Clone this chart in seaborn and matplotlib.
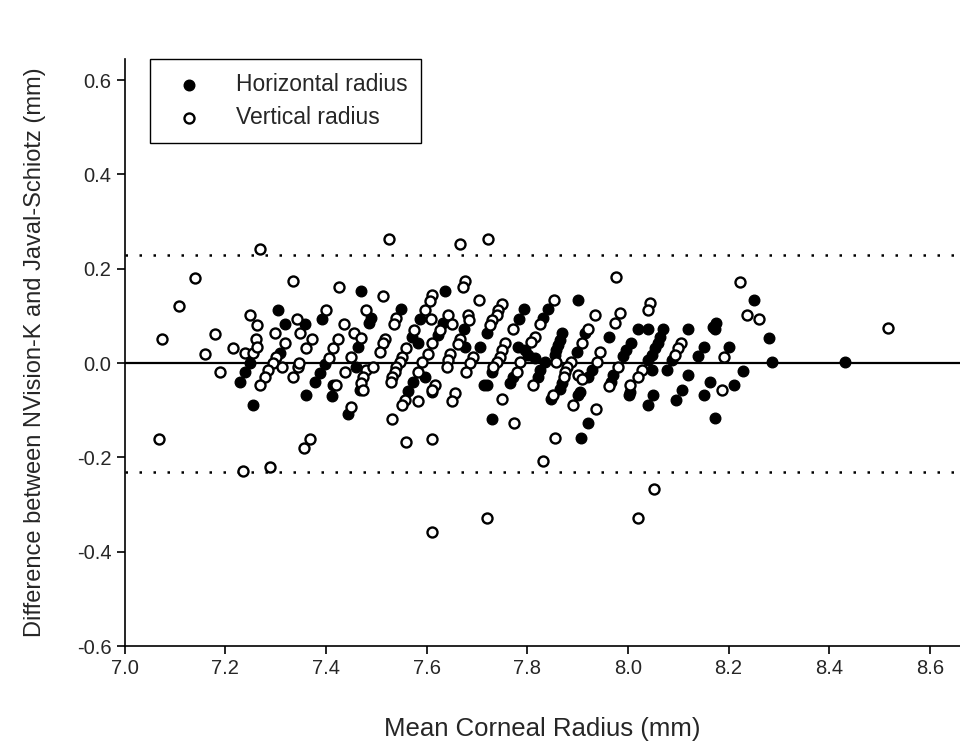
import matplotlib
matplotlib.use("Agg")
import matplotlib.pyplot as plt
import seaborn as sns
import pandas as pd

# Horizontal radius (filled)
h_x = [7.249, 7.239, 7.229, 7.254, 7.304, 7.318, 7.358, 7.391, 7.470, 7.486,
       7.463, 7.308, 7.398, 7.388, 7.378, 7.361, 7.460, 7.414, 7.412, 7.467,
       7.444, 7.636, 7.549, 7.490, 7.586, 7.632, 7.623, 7.674, 7.676, 7.570,
       7.583, 7.705, 7.596, 7.573, 7.563, 7.714, 7.610, 7.901, 7.842, 7.794,
       7.719, 7.784, 7.832, 7.915, 7.898, 7.868, 7.865, 7.861, 7.858, 7.855,
       7.782, 7.795, 7.802, 7.815, 7.729, 7.719, 7.772, 7.765, 7.835, 7.825,
       7.821, 7.868, 7.865, 7.928, 7.921, 7.905, 8.020, 8.040, 8.070, 8.064,
       8.060, 8.054, 8.047, 8.040, 8.120, 8.170, 7.962, 8.007, 7.997, 7.991,
       8.087, 8.151, 8.140, 7.971, 7.967, 8.047, 8.077, 8.120, 8.107, 8.163,
       8.004, 8.251, 8.176, 8.173, 8.281, 8.201, 8.287, 8.228, 8.211, 7.729,
       7.848, 7.901, 7.921, 7.906, 8.003, 8.050, 8.040, 8.095, 8.151, 8.173,
       8.431]
h_y = [0.001, -0.019, -0.040, -0.089, 0.112, 0.083, 0.082, 0.093, 0.153, 0.084,
       0.035, 0.022, -0.001, -0.020, -0.040, -0.067, -0.008, -0.047, -0.070, -0.057,
       -0.107, 0.153, 0.114, 0.095, 0.093, 0.084, 0.059, 0.073, 0.035, 0.056,
       0.042, 0.035, -0.029, -0.040, -0.060, -0.047, -0.061, 0.134, 0.114, 0.114,
       0.063, 0.093, 0.095, 0.063, 0.024, 0.063, 0.049, 0.038, 0.028, 0.017,
       0.035, 0.028, 0.017, 0.010, -0.018, -0.047, -0.029, -0.043, 0.003, -0.015,
       -0.029, -0.043, -0.054, -0.015, -0.029, -0.061, 0.073, 0.073, 0.073, 0.056,
       0.042, 0.031, 0.017, 0.006, 0.073, 0.077, 0.055, 0.042, 0.028, 0.015,
       0.006, 0.035, 0.015, -0.026, -0.040, -0.015, -0.015, -0.026, -0.057, -0.040,
       -0.061, 0.134, 0.084, 0.073, 0.054, 0.035, 0.003, -0.017, -0.047, -0.119,
       -0.077, -0.068, -0.128, -0.158, -0.068, -0.068, -0.089, -0.079, -0.068, -0.117,
       0.002]

# Vertical radius (open)
v_x = [7.140, 7.108, 7.074, 7.180, 7.249, 7.262, 7.215, 7.160, 7.239, 7.260,
       7.255, 7.189, 7.268, 7.335, 7.426, 7.400, 7.480, 7.342, 7.435, 7.298,
       7.348, 7.372, 7.361, 7.424, 7.456, 7.470, 7.319, 7.262, 7.414, 7.406,
       7.450, 7.300, 7.295, 7.285, 7.278, 7.268, 7.313, 7.345, 7.335, 7.346,
       7.437, 7.480, 7.474, 7.470, 7.474, 7.420, 7.525, 7.666, 7.514, 7.676,
       7.672, 7.704, 7.610, 7.606, 7.596, 7.540, 7.535, 7.608, 7.643, 7.650,
       7.682, 7.684, 7.626, 7.666, 7.663, 7.575, 7.517, 7.514, 7.507, 7.559,
       7.610, 7.602, 7.550, 7.547, 7.540, 7.537, 7.532, 7.590, 7.583, 7.646,
       7.643, 7.640, 7.692, 7.686, 7.679, 7.494, 7.530, 7.616, 7.610, 7.656,
       7.721, 7.853, 7.749, 7.742, 7.739, 7.729, 7.726, 7.772, 7.825, 7.934,
       7.921, 7.908, 7.858, 7.815, 7.808, 7.755, 7.749, 7.745, 7.739, 7.732,
       7.785, 7.779, 7.812, 7.887, 7.878, 7.875, 7.872, 7.901, 7.908, 7.944,
       7.938, 7.976, 8.044, 8.040, 7.985, 7.974, 8.105, 8.100, 8.093, 7.981,
       7.963, 8.027, 8.020, 8.004, 8.223, 8.236, 8.261, 8.191, 8.186, 7.235,
       7.068, 7.450, 7.368, 7.356, 7.288, 7.557, 7.550, 7.583, 7.650, 7.532,
       7.558, 7.611, 7.610, 7.720, 7.749, 7.773, 7.851, 7.891, 7.936, 7.856,
       7.832, 8.052, 8.020, 8.517]
v_y = [0.181, 0.122, 0.052, 0.061, 0.102, 0.081, 0.032, 0.020, 0.022, 0.052,
       0.021, -0.019, 0.243, 0.174, 0.162, 0.112, 0.112, 0.093, 0.083, 0.063,
       0.063, 0.052, 0.033, 0.052, 0.063, 0.054, 0.042, 0.035, 0.033, 0.010,
       0.013, 0.013, 0.000, -0.015, -0.029, -0.047, -0.008, -0.008, -0.029, 0.001,
       -0.018, -0.015, -0.029, -0.043, -0.057, -0.047, 0.263, 0.253, 0.143, 0.175,
       0.162, 0.134, 0.144, 0.132, 0.112, 0.095, 0.082, 0.093, 0.102, 0.083,
       0.102, 0.091, 0.071, 0.052, 0.040, 0.071, 0.052, 0.042, 0.024, 0.033,
       0.042, 0.020, 0.013, 0.003, -0.008, -0.018, -0.029, 0.003, -0.018, 0.020,
       0.006, -0.008, 0.013, 0.001, -0.018, -0.008, -0.040, -0.047, -0.057, -0.063,
       0.263, 0.134, 0.125, 0.112, 0.102, 0.091, 0.081, 0.072, 0.082, 0.102,
       0.073, 0.042, 0.003, 0.056, 0.045, 0.042, 0.028, 0.013, 0.003, -0.008,
       0.003, -0.018, -0.047, 0.003, -0.008, -0.018, -0.029, -0.026, -0.033, 0.024,
       0.003, 0.183, 0.127, 0.112, 0.107, 0.084, 0.042, 0.031, 0.017, -0.008,
       -0.049, -0.015, -0.029, -0.047, 0.173, 0.102, 0.093, 0.013, -0.056, -0.229,
       -0.160, -0.093, -0.160, -0.181, -0.220, -0.079, -0.089, -0.080, -0.080, -0.119,
       -0.168, -0.160, -0.359, -0.328, -0.077, -0.128, -0.068, -0.088, -0.098, -0.158,
       -0.208, -0.268, -0.328, 0.074]

limits = [0.23, -0.23]
x_ticks = [7.0, 7.2, 7.4, 7.6, 7.8, 8.0, 8.2, 8.4, 8.6]
y_ticks = [-0.6, -0.4, -0.2, 0.0, 0.2, 0.4, 0.6]
series_names = ["Horizontal radius", "Vertical radius"]

sns.set_theme(style="ticks")
plt.rcParams["font.family"] = ["Liberation Sans", "DejaVu Sans"]

fig = plt.figure(figsize=(9.6, 7.46), dpi=100)
ax = fig.add_axes([0.130, 0.134, 0.870, 0.787])

dh = pd.DataFrame({"x": h_x, "y": h_y})
dv = pd.DataFrame({"x": v_x, "y": v_y})

ax.axhline(0, color="black", lw=1.6, zorder=1)
for L in limits:
    ax.axhline(L, color="black", lw=1.8, ls=(0, (1, 4.6)), zorder=1)

sns.scatterplot(data=dh, x="x", y="y", ax=ax, s=58, color="black",
                edgecolor="black", linewidth=1.0, label=series_names[0], zorder=3)
sns.scatterplot(data=dv, x="x", y="y", ax=ax, s=52, facecolor="white",
                edgecolor="black", linewidth=1.7, label=series_names[1], zorder=3)

ax.set_xlim(7.0, 8.66)
ax.set_ylim(-0.6, 0.645)
ax.set_xticks(x_ticks)
ax.set_xticklabels([f"{v:.1f}" for v in x_ticks])
ax.set_yticks(y_ticks)
ax.set_yticklabels([f"{v:.1f}" for v in y_ticks])
ax.tick_params(labelsize=14.5, length=6, width=1.2, color="black", direction="out")
for s in ["top", "right"]:
    ax.spines[s].set_visible(False)
for s in ["left", "bottom"]:
    ax.spines[s].set_linewidth(1.2)
    ax.spines[s].set_color("black")

ax.set_xlabel("Mean Corneal Radius (mm)", fontsize=18.5, labelpad=28)
ax.set_ylabel("Difference between NVision-K and Javal-Schiotz (mm)", fontsize=17, labelpad=22)

leg = ax.legend(loc="upper left", bbox_to_anchor=(0.03, 1.0), fontsize=16.5,
                frameon=True, fancybox=False, edgecolor="black", framealpha=1,
                borderpad=0.6, handletextpad=0.95, labelspacing=0.45, borderaxespad=0.0,
                handlelength=2.2)
leg.get_frame().set_linewidth(1.0)

fig.savefig("out.png", dpi=100, facecolor="white")
